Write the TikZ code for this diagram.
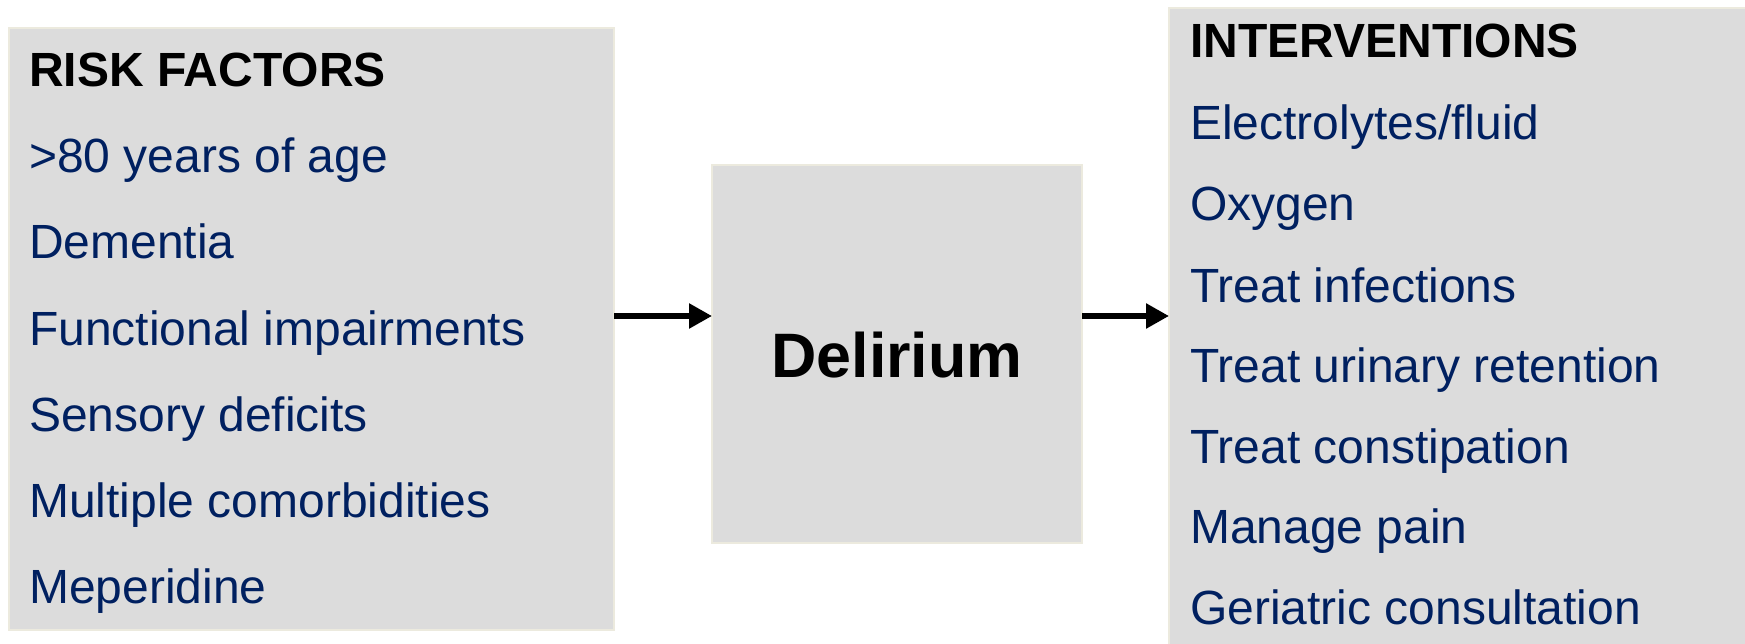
\documentclass[tikz,border=0pt]{standalone}
\usepackage{fontspec}
\setmainfont{Liberation Sans}
\usetikzlibrary{arrows.meta}
\definecolor{boxfill}{RGB}{220,220,220}
\definecolor{boxline}{RGB}{236,234,222}
\definecolor{navy}{RGB}{0,32,96}
\begin{document}
\begin{tikzpicture}[x=1pt,y=-1pt,
  panel/.style={draw=boxline, line width=1.5pt, fill=boxfill, inner sep=0pt, outer sep=0pt, anchor=north west},
  item/.style={anchor=base west, inner sep=0pt, text=navy, font=\fontsize{48}{57}\selectfont},
  head/.style={anchor=base west, inner sep=0pt, text=black, font=\fontsize{48}{57}\selectfont\bfseries},
  link/.style={line width=5.5pt, -{Triangle[length=23pt,width=24pt]}}]
\useasboundingbox (0,0) rectangle (1745,644);
\node[panel, minimum width=605pt, minimum height=602pt] (L) at (9,28) {};
\node[panel, minimum width=370pt, minimum height=378pt] (M) at (712,165) {};
\node[panel, minimum width=582pt, minimum height=645pt] (R) at (1169,8) {};
% left texts
\node[head] (l0) at (29,87) {RISK FACTORS};
\node[item] (l1) at (29,173) {>80 years of age};
\node[item] (l2) at (29,259) {Dementia};
\node[item] (l3) at (29,345) {Functional impairments};
\node[item] (l4) at (29,431) {Sensory deficits};
\node[item] (l5) at (29,517) {Multiple comorbidities};
\node[item] (l6) at (29,603) {Meperidine};
% middle
\node[anchor=base, inner sep=0pt, font=\fontsize{62.8}{75}\selectfont\bfseries] (mt) at (897,377) {Delirium};
% right texts
\node[head] (r0) at (1190,58) {INTERVENTIONS};
\node[item] (r1) at (1190,140) {Electrolytes/fluid};
\node[item] (r2) at (1190,221) {Oxygen};
\node[item] (r3) at (1190,302) {Treat infections};
\node[item] (r4) at (1190,382) {Treat urinary retention};
\node[item] (r5) at (1190,463) {Treat constipation};
\node[item] (r6) at (1190,543) {Manage pain};
\node[item] (r7) at (1190,624) {Geriatric consultation};
% arrows
\coordinate (ay) at (0,316);
\draw[link] (L.east |- ay) -- (M.west |- ay);
\draw[link] (M.east |- ay) -- (R.west |- ay);
\end{tikzpicture}
\end{document}
